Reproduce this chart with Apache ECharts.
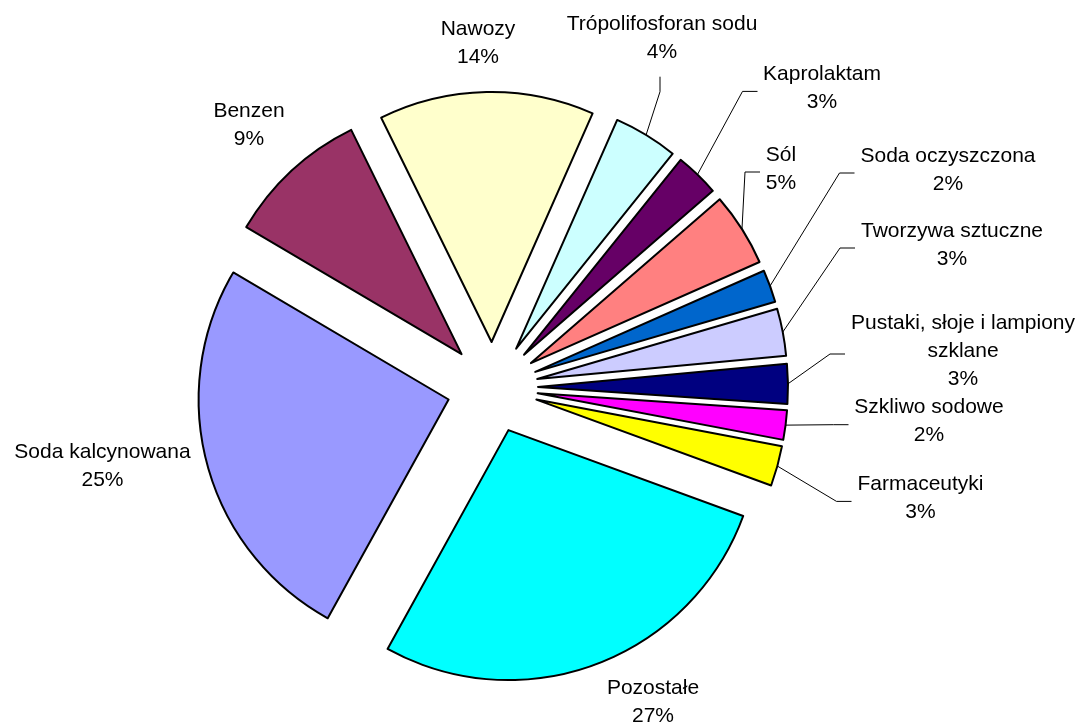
<!DOCTYPE html>
<html>
<head>
<meta charset="utf-8">
<script src="https://cdn.jsdelivr.net/npm/echarts@6/dist/echarts.min.js"></script>
<style>
html,body{margin:0;padding:0;background:#ffffff;}
#chart{width:1077px;height:725px;}
</style>
</head>
<body>
<div id="chart"></div>
<script>
// ---- data ----
const categories = ['Nawozy', 'Trópolifosforan sodu', 'Kaprolaktam', 'Sól', 'Soda oczyszczona',
  'Tworzywa sztuczne', 'Pustaki, słoje i lampiony szklane', 'Szkliwo sodowe', 'Farmaceutyki',
  'Pozostałe', 'Soda kalcynowana', 'Benzen'];
const labelNames = ['Nawozy', 'Trópolifosforan sodu', 'Kaprolaktam', 'Sól', 'Soda oczyszczona',
  'Tworzywa sztuczne', 'Pustaki, słoje i lampiony\nszklane', 'Szkliwo sodowe', 'Farmaceutyki',
  'Pozostałe', 'Soda kalcynowana', 'Benzen'];
const shares = [13.9, 4.15, 2.85, 4.75, 2.1, 3.05, 2.56, 1.9, 2.6, 27.45, 25.45, 9.24];

// ---- styles / layout ----
const colors = ['#FFFFCC', '#CCFFFF', '#660066', '#FF8080', '#0066CC', '#CCCCFF',
  '#000080', '#FF00FF', '#FFFF00', '#00FFFF', '#9999FF', '#993366'];
const PIE_CENTER = [492.5, 387.5];
const PIE_R = 250;
const EXPLODE = 45.5;
const FIRST_ANGLE = -26.2;          // degrees, clockwise from 12 o'clock
const FONT = '"Liberation Sans", Arial, sans-serif';
const FONT_SIZE = 21;
const LINE_H = 28;
// label block centre [x, y] and side the leader line attaches to
const labelPlace = [
  [478, 43.7, null],
  [662, 38.7, 'bottom'],
  [822, 88.4, 'left'],
  [781, 169, 'left'],
  [948, 170, 'left'],
  [952, 245, 'left'],
  [963, 351, 'left'],
  [929, 421.7, 'left'],
  [920.5, 498.4, 'left'],
  [653, 702.7, null],
  [102.5, 466.7, null],
  [249, 125, null]
];
const SEG = 15, GAP_SIDE = 4.5, GAP_BOTTOM = 10, LINE_DY = 3;

const mctx = document.createElement('canvas').getContext('2d');
mctx.font = FONT_SIZE + 'px ' + FONT;
function blockWidth(t) {
  return Math.max.apply(null, t.split('\n').map(s => mctx.measureText(s).width));
}

const total = shares.reduce((a, b) => a + b, 0);
let cum = 0;
const series = shares.map((v, i) => {
  const midDeg = FIRST_ANGLE + (cum + v / 2) / total * 360;
  cum += v;
  const m = midDeg * Math.PI / 180;
  const cx = PIE_CENTER[0] + EXPLODE * Math.sin(m);
  const cy = PIE_CENTER[1] - EXPLODE * Math.cos(m);
  const ax = cx + PIE_R * Math.sin(m);
  const ay = cy - PIE_R * Math.cos(m);
  const place = labelPlace[i];
  const lw = Math.ceil(blockWidth(labelNames[i])) + 2;
  return {
    type: 'pie',
    center: [cx, cy],
    radius: PIE_R,
    startAngle: 90 - FIRST_ANGLE,
    clockwise: true,
    avoidLabelOverlap: false,
    silent: true,
    animation: false,
    emphasis: { disabled: true },
    label: {
      show: false,
      formatter: p => labelNames[p.dataIndex] + '\n' + Math.round(p.percent) + '%'
    },
    labelLine: { show: false },
    data: shares.map((w, j) => j === i ? {
      name: categories[j], value: w,
      itemStyle: { color: colors[j], borderColor: '#000000', borderWidth: 2 },
      label: {
        show: true, position: 'outside', color: '#000000', fontFamily: FONT,
        fontSize: FONT_SIZE, lineHeight: LINE_H, align: 'center', width: lw, overflow: 'none'
      },
      labelLine: { show: !!place[2], length: 10, length2: 10, lineStyle: { color: '#000000', width: 1 } }
    } : {
      name: categories[j], value: w,
      itemStyle: { color: 'rgba(0,0,0,0)', borderWidth: 0 },
      label: { show: false }, labelLine: { show: false }
    }),
    labelLayout: function (params) {
      if (params.dataIndex !== i) return {};
      const h = params.labelRect.height;
      const res = { x: place[0], y: place[1], align: 'center', verticalAlign: 'middle' };
      if (place[2] === 'left') {
        const ex = place[0] - lw / 2 - GAP_SIDE, ey = place[1] + LINE_DY;
        res.labelLinePoints = [[ax, ay], [ex - SEG, ey], [ex, ey]];
      } else if (place[2] === 'bottom') {
        const ex = place[0] - 2, ey = place[1] + h / 2 + GAP_BOTTOM;
        res.labelLinePoints = [[ax, ay], [ex, ey + SEG], [ex, ey]];
      }
      return res;
    }
  };
});

const chart = echarts.init(document.getElementById('chart'), null, { renderer: 'canvas' });
chart.setOption({
  backgroundColor: '#ffffff',
  animation: false,
  series: series
});
</script>
</body>
</html>
